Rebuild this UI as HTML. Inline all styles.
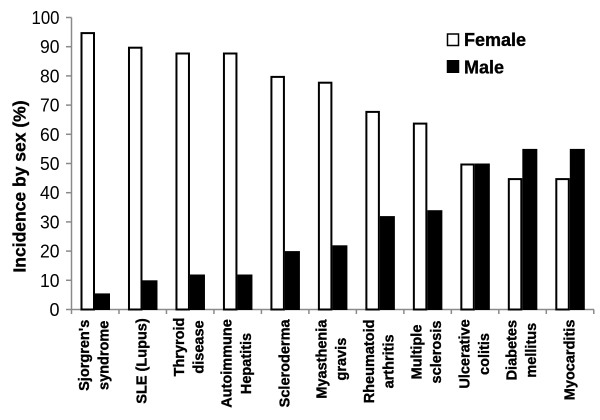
<!DOCTYPE html>
<html>
<head>
<meta charset="utf-8">
<style>
html,body{margin:0;padding:0;background:#fff;}
svg{display:block;}
text{font-family:"Liberation Sans",Arial,sans-serif;fill:#000;}
.yl{font-size:18px;text-anchor:end;}
.xl{font-size:14.5px;font-weight:bold;text-anchor:middle;stroke:#000;stroke-width:0.35;}
.bt{font-weight:bold;stroke:#000;stroke-width:0.35;}
</style>
</head>
<body>
<svg width="600" height="420" viewBox="0 0 600 420" xmlns="http://www.w3.org/2000/svg">
<rect width="600" height="420" fill="#fff"/>

<!-- Y axis title -->
<text class="bt" transform="translate(25.5,186.5) rotate(-90)" text-anchor="middle" font-size="17.5">Incidence by sex (%)</text>

<!-- Y tick labels -->
<text class="yl" x="59.5" y="24" textLength="28" lengthAdjust="spacingAndGlyphs">100</text>
<text class="yl" x="59.5" y="53.2" textLength="19.5" lengthAdjust="spacingAndGlyphs">90</text>
<text class="yl" x="59.5" y="82.4" textLength="19.5" lengthAdjust="spacingAndGlyphs">80</text>
<text class="yl" x="59.5" y="111.6" textLength="19.5" lengthAdjust="spacingAndGlyphs">70</text>
<text class="yl" x="59.5" y="140.8" textLength="19.5" lengthAdjust="spacingAndGlyphs">60</text>
<text class="yl" x="59.5" y="170" textLength="19.5" lengthAdjust="spacingAndGlyphs">50</text>
<text class="yl" x="59.5" y="199.2" textLength="19.5" lengthAdjust="spacingAndGlyphs">40</text>
<text class="yl" x="59.5" y="228.4" textLength="19.5" lengthAdjust="spacingAndGlyphs">30</text>
<text class="yl" x="59.5" y="257.6" textLength="19.5" lengthAdjust="spacingAndGlyphs">20</text>
<text class="yl" x="59.5" y="286.8" textLength="19.5" lengthAdjust="spacingAndGlyphs">10</text>
<text class="yl" x="59.5" y="316">0</text>

<!-- Axes -->
<g stroke="#8a8a8a" stroke-width="1.5" fill="none">
<line x1="71.5" y1="17.5" x2="71.5" y2="310"/>
<line x1="71" y1="309.5" x2="594" y2="309.5"/>
<line x1="66" y1="17.5" x2="71.5" y2="17.5"/>
<line x1="66" y1="46.7" x2="71.5" y2="46.7"/>
<line x1="66" y1="75.9" x2="71.5" y2="75.9"/>
<line x1="66" y1="105.1" x2="71.5" y2="105.1"/>
<line x1="66" y1="134.3" x2="71.5" y2="134.3"/>
<line x1="66" y1="163.5" x2="71.5" y2="163.5"/>
<line x1="66" y1="192.7" x2="71.5" y2="192.7"/>
<line x1="66" y1="221.9" x2="71.5" y2="221.9"/>
<line x1="66" y1="251.1" x2="71.5" y2="251.1"/>
<line x1="66" y1="280.3" x2="71.5" y2="280.3"/>
<line x1="66" y1="309.5" x2="71.5" y2="309.5"/>
<line x1="71.5" y1="309.5" x2="71.5" y2="314"/>
<line x1="118.98" y1="309.5" x2="118.98" y2="314"/>
<line x1="166.46" y1="309.5" x2="166.46" y2="314"/>
<line x1="213.94" y1="309.5" x2="213.94" y2="314"/>
<line x1="261.42" y1="309.5" x2="261.42" y2="314"/>
<line x1="308.9" y1="309.5" x2="308.9" y2="314"/>
<line x1="356.38" y1="309.5" x2="356.38" y2="314"/>
<line x1="403.86" y1="309.5" x2="403.86" y2="314"/>
<line x1="451.34" y1="309.5" x2="451.34" y2="314"/>
<line x1="498.82" y1="309.5" x2="498.82" y2="314"/>
<line x1="546.3" y1="309.5" x2="546.3" y2="314"/>
<line x1="593.78" y1="309.5" x2="593.78" y2="314"/>
</g>

<!-- Female bars -->
<g fill="#fff" stroke="#000" stroke-width="2">
<rect x="81.5" y="33.1" width="12.5" height="276.4"/>
<rect x="128.98" y="47.7" width="12.5" height="261.8"/>
<rect x="176.46" y="53.5" width="12.5" height="256"/>
<rect x="223.94" y="53.5" width="12.5" height="256"/>
<rect x="271.42" y="76.9" width="12.5" height="232.6"/>
<rect x="318.9" y="82.7" width="12.5" height="226.8"/>
<rect x="366.38" y="111.9" width="12.5" height="197.6"/>
<rect x="413.86" y="123.6" width="12.5" height="185.9"/>
<rect x="461.34" y="164.5" width="12.5" height="145"/>
<rect x="508.82" y="179.1" width="12.5" height="130.4"/>
<rect x="556.3" y="179.1" width="12.5" height="130.4"/>
</g>

<!-- Male bars -->
<g fill="#000">
<rect x="95" y="293.4" width="15" height="16.6"/>
<rect x="142.48" y="280.3" width="15" height="29.7"/>
<rect x="189.96" y="274.5" width="15" height="35.5"/>
<rect x="237.44" y="274.5" width="15" height="35.5"/>
<rect x="284.92" y="251.1" width="15" height="58.9"/>
<rect x="332.4" y="245.3" width="15" height="64.7"/>
<rect x="379.88" y="216.1" width="15" height="93.9"/>
<rect x="427.36" y="210.2" width="15" height="99.8"/>
<rect x="474.84" y="163.5" width="15" height="146.5"/>
<rect x="522.32" y="148.9" width="15" height="161.1"/>
<rect x="569.8" y="148.9" width="15" height="161.1"/>
</g>

<!-- X labels -->
<text class="xl" transform="translate(89.2,355.3) rotate(-90)">Sjorgren's</text>
<text class="xl" transform="translate(108.7,355.3) rotate(-90)">syndrome</text>

<text class="xl" transform="translate(146.7,361) rotate(-90)">SLE (Lupus)</text>

<text class="xl" transform="translate(184.2,347) rotate(-90)">Thryroid</text>
<text class="xl" transform="translate(203.7,347) rotate(-90)">disease</text>

<text class="xl" transform="translate(231.7,363.5) rotate(-90)">Autoimmune</text>
<text class="xl" transform="translate(251.2,363.5) rotate(-90)">Hepatitis</text>

<text class="xl" transform="translate(289.7,363.4) rotate(-90)">Scleroderma</text>

<text class="xl" transform="translate(326.6,359.1) rotate(-90)">Myasthenia</text>
<text class="xl" transform="translate(346.1,359.1) rotate(-90)">gravis</text>

<text class="xl" transform="translate(374.1,361.4) rotate(-90)">Rheumatoid</text>
<text class="xl" transform="translate(393.6,361.4) rotate(-90)">arthritis</text>

<text class="xl" transform="translate(421.6,352) rotate(-90)">Multiple</text>
<text class="xl" transform="translate(441.1,352) rotate(-90)">sclerosis</text>

<text class="xl" transform="translate(469.6,354) rotate(-90)">Ulcerative</text>
<text class="xl" transform="translate(489.1,354) rotate(-90)">colitis</text>

<text class="xl" transform="translate(516.6,350.2) rotate(-90)">Diabetes</text>
<text class="xl" transform="translate(536.1,350.2) rotate(-90)">mellitus</text>

<text class="xl" transform="translate(574.5,359.9) rotate(-90)">Myocarditis</text>

<!-- Legend -->
<rect x="447.5" y="34" width="11" height="11.5" fill="#fff" stroke="#000" stroke-width="1.5"/>
<text class="bt" x="464" y="46" font-size="18">Female</text>
<rect x="446.75" y="60" width="12.5" height="13" fill="#000"/>
<text class="bt" x="464" y="73.5" font-size="18">Male</text>
</svg>
</body>
</html>
